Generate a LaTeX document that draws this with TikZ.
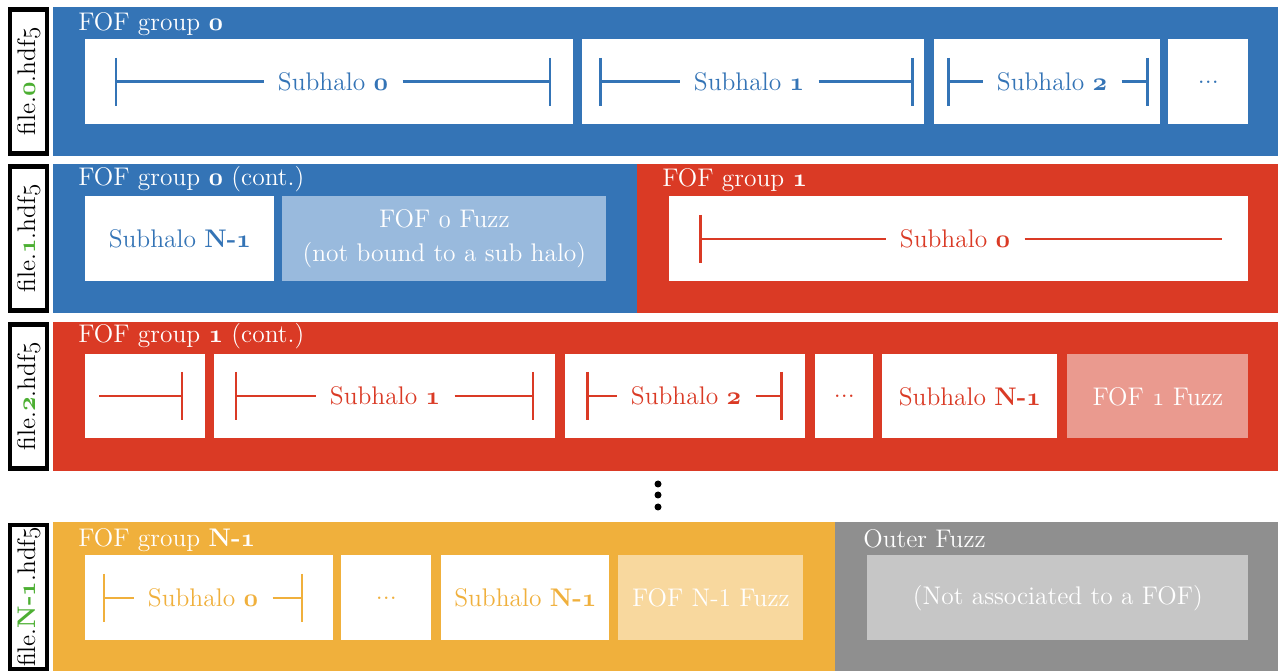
\documentclass[tikz,border=0pt]{standalone}
\usepackage{xcolor}
\usetikzlibrary{positioning}
\definecolor{fofblue}{RGB}{52,116,182}
\definecolor{fofred}{RGB}{218,58,37}
\definecolor{foforange}{RGB}{240,176,60}
\definecolor{fofgrey}{RGB}{143,143,143}
\definecolor{fuzzblue}{RGB}{153,186,221}
\definecolor{fuzzred}{RGB}{234,154,143}
\definecolor{fuzzorange}{RGB}{248,216,158}
\definecolor{fuzzgrey}{RGB}{198,198,198}
\definecolor{filegreen}{RGB}{76,175,50}
% old style digits, bold and regular
\newcommand{\osn}[1]{{\boldmath$\mathnormal{#1}$}}
\newcommand{\osr}[1]{$\mathnormal{#1}$}
\newcommand{\fnum}[1]{\textcolor{filegreen}{\textbf{#1}}}

\begin{document}
\begin{tikzpicture}[x=0.02cm, y=-0.02cm, font=\fontsize{14.5}{19}\selectfont,
  sz/.style 2 args={minimum width=#1*0.02cm, minimum height=#2*0.02cm},
  brk/.style={line width=1.7pt}]
\tikzstyle{band}=[anchor=north west, inner sep=0pt, draw=none]
\tikzstyle{cell}=[anchor=north west, inner sep=0pt, fill=white, align=center]
\tikzstyle{ttl}=[anchor=base west, inner sep=0pt, text=white]
\tikzstyle{lbl}=[inner xsep=8pt, inner ysep=0pt]
\tikzstyle{filebox}=[draw, line width=2.3pt, rotate=90, inner sep=0pt, fill=white]
\tikzstyle{dotnode}=[circle, fill=black, inner sep=0pt, minimum size=0.14cm]
\useasboundingbox (0,0) rectangle (1278,671);

% file labels
\node[filebox, sz={144}{37}] (f0) at (28.5,81.5) {file.\fnum{\osn{0}}.hdf\osr{5}};
\node[filebox, sz={144}{37}] (f1) at (28.5,238.5) {file.\fnum{\osn{1}}.hdf\osr{5}};
\node[filebox, sz={144}{37}] (f2) at (28.5,396.5) {file.\fnum{\osn{2}}.hdf\osr{5}};
\node[filebox, sz={144}{37}] (f3) at (28.5,597) {file.\fnum{N-\osn{1}}.hdf\osr{5}};

% groups
\node[band, fill=fofblue, sz={1225}{149}] (g0) at (53,7) {};
\node[band, fill=fofblue, sz={584}{149}] (g0c) at (53,164) {};
\node[band, fill=fofred, sz={641}{149}] (g1) at (637,164) {};
\node[band, fill=fofred, sz={1225}{149}] (g1c) at (53,322) {};
\node[band, fill=foforange, sz={782}{149}] (gN) at (53,522) {};
\node[band, fill=fofgrey, sz={443}{149}] (gout) at (835,522) {};

\node[ttl] (t0) at (78,31) {FOF group \osn{0}};
\node[ttl] (t0c) at (78,186) {FOF group \osn{0} (cont.)};
\node[ttl] (t1) at (662,187) {FOF group \osn{1}};
\node[ttl] (t1c) at (78,343) {FOF group \osn{1} (cont.)};
\node[ttl] (tN) at (78,547) {FOF group \textbf{N-\osn{1}}};
\node[ttl] (tout) at (863,548) {Outer Fuzz};

% subhalo cells
\node[cell, sz={488}{85}] (c00) at (85,39) {};
\node[cell, sz={342}{85}] (c01) at (582,39) {};
\node[cell, sz={226}{85}] (c02) at (934,39) {};
\node[cell, sz={80}{85}, text=fofblue] (c03) at (1168,39) {...};

\node[cell, sz={189}{85}, text=fofblue] (c10) at (85,196) {Subhalo \textbf{N-\osn{1}}};
\node[cell, fill=fuzzblue, text=white, sz={324}{85}] (fz0) at (282,196) {FOF \osr{0} Fuzz\\(not bound to a sub halo)};
\node[cell, sz={579}{85}] (c11) at (669,196) {};

\node[cell, sz={120}{84}] (c20) at (85,354) {};
\node[cell, sz={341}{84}] (c21) at (214,354) {};
\node[cell, sz={240}{84}] (c22) at (565,354) {};
\node[cell, sz={58}{84}, text=fofred] (c23) at (815,354) {...};
\node[cell, sz={175}{84}, text=fofred] (c24) at (882,354) {Subhalo \textbf{N-\osn{1}}};
\node[cell, fill=fuzzred, text=white, sz={181}{84}] (fz1) at (1067,354) {FOF \osr{1} Fuzz};

\node[cell, sz={248}{85}] (c30) at (85,555) {};
\node[cell, sz={90}{85}, text=foforange] (c31) at (341,555) {...};
\node[cell, sz={168}{85}, text=foforange] (c32) at (441,555) {Subhalo \textbf{N-\osn{1}}};
\node[cell, fill=fuzzorange, text=white, sz={185}{85}] (fzN) at (618,555) {FOF N-1 Fuzz};
\node[cell, fill=fuzzgrey, text=white, sz={381}{85}] (fzout) at (867,555) {(Not associated to a FOF)};

% brackets
\foreach \nm/\cx/\cy/\lx/\rx/\col/\txt in {s00/333/82/116/550/fofblue/{Subhalo \osn{0}},
  s01/749/82/600/912/fofblue/{Subhalo \osn{1}}, s02/1052/82/948/1147/fofblue/{Subhalo \osn{2}},
  s21/385/396/236/533/fofred/{Subhalo \osn{1}}, s22/686/396/587/781/fofred/{Subhalo \osn{2}},
  s30/203/598/104/302/foforange/{Subhalo \osn{0}}}{
  \node[lbl, text=\col] (\nm) at (\cx,\cy) {\txt};
  \coordinate (\nm-l) at (\lx,\cy);
  \coordinate (\nm-r) at (\rx,\cy);
  \draw[brk, \col] (\nm-l) -- (\nm.west) (\nm.east) -- (\nm-r);
  \draw[brk, \col] (\nm-l) ++(0,-24) -- ++(0,48) (\nm-r) ++(0,-24) -- ++(0,48);
}
\node[lbl, text=fofred] (s10) at (955,239) {Subhalo \osn{0}};
\coordinate (s10-l) at (700,239);
\coordinate (s10-r) at (1222,239);
\draw[brk, fofred] (s10-l) -- (s10.west) (s10.east) -- (s10-r);
\draw[brk, fofred] (s10-l) ++(0,-24) -- ++(0,48);
\coordinate (s20-l) at (99,396);
\coordinate (s20-r) at (182,396);
\draw[brk, fofred] (s20-l) -- (s20-r) ++(0,-24) -- ++(0,48);

% more files
\foreach \i/\y in {1/484,2/495,3/507}{\node[dotnode] (dot\i) at (658,\y) {};}
\end{tikzpicture}
\end{document}
